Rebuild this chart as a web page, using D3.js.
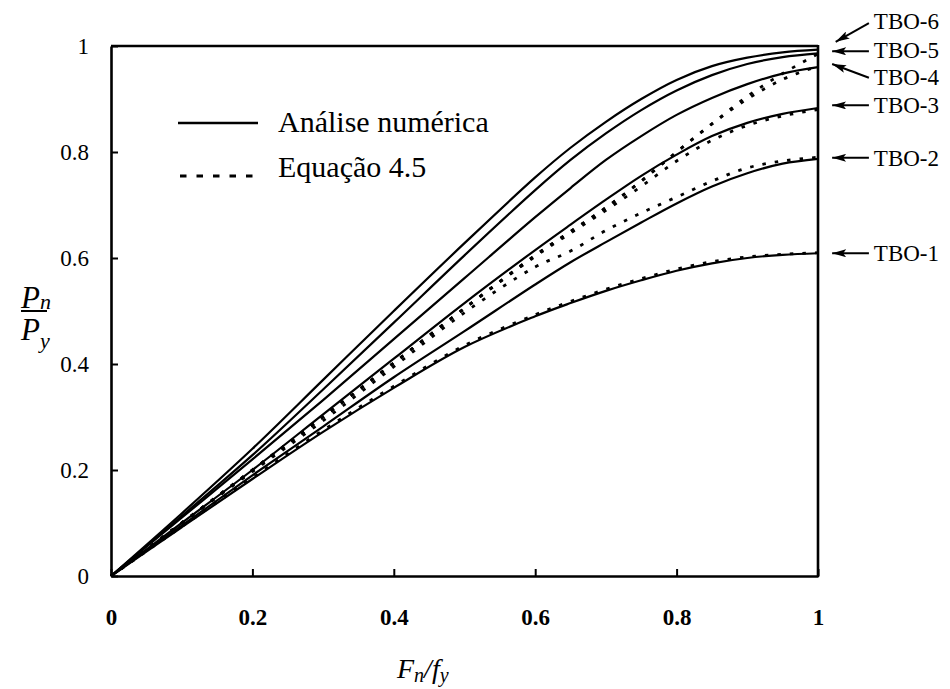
<!DOCTYPE html>
<html>
<head>
<meta charset="utf-8">
<script src="https://cdn.jsdelivr.net/npm/d3@7"></script>
<style>
  html, body { margin: 0; padding: 0; background: #fff; }
  svg { display: block; }
  svg text { font-family: "Liberation Serif", "DejaVu Serif", serif !important; fill: #000; }
</style>
</head>
<body>
<svg id="chart" width="950" height="689"></svg>
<script>
// ---------- data ----------
const fnGrid = [0, 0.1, 0.2, 0.3, 0.4, 0.5, 0.6, 0.65, 0.7, 0.75, 0.8, 0.85, 0.9, 0.95, 1.0];

// numerical analysis (solid)
const tbo1 = [0, 0.092, 0.183, 0.272, 0.355, 0.432, 0.490, 0.515, 0.538, 0.558, 0.576, 0.590, 0.600, 0.606, 0.609];
const tbo2 = [0, 0.095, 0.190, 0.282, 0.375, 0.462, 0.550, 0.592, 0.630, 0.667, 0.703, 0.735, 0.760, 0.778, 0.787];
const tbo3 = [0, 0.100, 0.200, 0.305, 0.410, 0.515, 0.615, 0.663, 0.710, 0.755, 0.795, 0.830, 0.855, 0.872, 0.883];
const tbo4 = [0, 0.110, 0.220, 0.332, 0.447, 0.562, 0.677, 0.732, 0.785, 0.830, 0.870, 0.902, 0.928, 0.948, 0.960];
const tbo5 = [0, 0.113, 0.228, 0.352, 0.478, 0.605, 0.728, 0.785, 0.835, 0.879, 0.916, 0.945, 0.966, 0.979, 0.986];
const tbo6 = [0, 0.118, 0.240, 0.370, 0.500, 0.628, 0.752, 0.808, 0.857, 0.900, 0.936, 0.962, 0.978, 0.988, 0.993];

// Equação 4.5 (dotted)
const eq1 = [0, 0.093, 0.185, 0.275, 0.358, 0.435, 0.493, 0.518, 0.541, 0.561, 0.579, 0.593, 0.602, 0.607, 0.610];
const eq2 = [0, 0.100, 0.197, 0.293, 0.395, 0.497, 0.583, 0.613, 0.652, 0.685, 0.715, 0.745, 0.770, 0.783, 0.790];
const eq3 = [0, 0.100, 0.200, 0.300, 0.402, 0.505, 0.603, 0.647, 0.690, 0.735, 0.783, 0.822, 0.850, 0.868, 0.880];
const eq4 = [0, 0.100, 0.200, 0.300, 0.402, 0.505, 0.605, 0.650, 0.695, 0.745, 0.800, 0.853, 0.900, 0.937, 0.962];
const eq5 = [0, 0.100, 0.200, 0.300, 0.402, 0.505, 0.605, 0.650, 0.695, 0.745, 0.800, 0.853, 0.905, 0.948, 0.985];

const solidSeries = [tbo1, tbo2, tbo3, tbo4, tbo5, tbo6];
const dottedSeries = [eq1, eq2, eq3, eq4, eq5];

const xTicks = [0, 0.2, 0.4, 0.6, 0.8, 1];
const xTickLabels = ["0", "0.2", "0.4", "0.6", "0.8", "1"];
const yTicks = [0, 0.2, 0.4, 0.6, 0.8, 1];
const yTickLabels = ["0", "0.2", "0.4", "0.6", "0.8", "1"];

const legendLabels = ["Análise numérica", "Equação 4.5"];

// curve labels at the right with arrows (data units)
const tboLabels = ["TBO-1", "TBO-2", "TBO-3", "TBO-4", "TBO-5", "TBO-6"];
const tboLabelY = [0.609, 0.789, 0.889, 0.941, 0.992, 1.048];
const arrowTip  = [[1.02, 0.609], [1.02, 0.789], [1.02, 0.888], [1.02, 0.966], [1.02, 0.990], [1.025, 1.008]];
const arrowTail = [[1.072, 0.609], [1.072, 0.789], [1.072, 0.888], [1.072, 0.940], [1.072, 0.990], [1.072, 1.043]];

// ---------- layout ----------
const SERIF = "'Liberation Serif', 'DejaVu Serif', serif";
const svg = d3.select("#chart");
const mLeft = 111, mRight = 818, mTop = 46, mBottom = 576;

const x = d3.scaleLinear().domain([0, 1]).range([mLeft, mRight]);
const y = d3.scaleLinear().domain([0, 1]).range([mBottom, mTop]);

const line = d3.line()
  .x((d, i) => x(fnGrid[i]))
  .y(d => y(d))
  .curve(d3.curveCatmullRom.alpha(0.5));

// curves
const gCurves = svg.append("g");
gCurves.selectAll("path.solid")
  .data(solidSeries)
  .join("path")
  .attr("class", "solid")
  .attr("d", line)
  .attr("fill", "none")
  .attr("stroke", "#000")
  .attr("stroke-width", 2.2);

gCurves.selectAll("path.dotted")
  .data(dottedSeries)
  .join("path")
  .attr("class", "dotted")
  .attr("d", line)
  .attr("fill", "none")
  .attr("stroke", "#000")
  .attr("stroke-width", 2.8)
  .attr("stroke-dasharray", "3.5,9");

// axes
const axisStroke = 2.6;
const xAxis = d3.axisBottom(x).tickValues(xTicks).tickFormat((d, i) => xTickLabels[i]).tickSizeInner(-7).tickSizeOuter(0).tickPadding(33);
const yAxis = d3.axisLeft(y).tickValues(yTicks).tickFormat((d, i) => yTickLabels[i]).tickSizeInner(-7).tickSizeOuter(0).tickPadding(22);

const gx = svg.append("g").attr("transform", `translate(0,${mBottom})`).call(xAxis);
const gy = svg.append("g").attr("transform", `translate(${mLeft},0)`).call(yAxis);

[gx, gy].forEach(g => {
  g.attr("font-family", SERIF);
  g.select(".domain").attr("stroke", "#000").attr("stroke-width", axisStroke);
  g.selectAll(".tick line").attr("stroke", "#000").attr("stroke-width", 2);
});
gx.selectAll(".tick text")
  .style("font-family", SERIF)
  .attr("font-size", 23).attr("font-weight", "bold").attr("fill", "#000");
gy.selectAll(".tick text")
  .style("font-family", SERIF)
  .attr("font-size", 23).attr("fill", "#000");

// frame top and right
svg.append("line").attr("x1", x(0)).attr("x2", x(1)).attr("y1", y(1)).attr("y2", y(1))
  .attr("stroke", "#000").attr("stroke-width", axisStroke);
svg.append("line").attr("x1", x(1)).attr("x2", x(1)).attr("y1", y(0) + 1).attr("y2", y(1) - 1)
  .attr("stroke", "#000").attr("stroke-width", axisStroke);

// axis titles
const xt = svg.append("text").attr("x", 397).attr("y", 678)
  .style("font-family", SERIF)
  .attr("font-size", 28).attr("font-style", "italic");
xt.append("tspan").text("F");
xt.append("tspan").attr("font-size", 20).attr("dy", 4).text("n");
xt.append("tspan").attr("dy", -4).text("/f");
xt.append("tspan").attr("font-size", 20).attr("dy", 4).text("y");

const yt = svg.append("g");
const num = yt.append("text").attr("x", 21).attr("y", 308).style("font-family", SERIF)
  .attr("font-size", 31).attr("font-style", "italic");
num.append("tspan").text("P");
num.append("tspan").attr("font-size", 22).attr("dy", 1).text("n");
yt.append("line").attr("x1", 21).attr("x2", 47).attr("y1", 311).attr("y2", 311)
  .attr("stroke", "#000").attr("stroke-width", 2);
const den = yt.append("text").attr("x", 21).attr("y", 340).style("font-family", SERIF)
  .attr("font-size", 31).attr("font-style", "italic");
den.append("tspan").text("P");
den.append("tspan").attr("font-size", 22).attr("dy", 8).text("y");

// legend
const lg = svg.append("g");
lg.append("line").attr("x1", 178).attr("x2", 258).attr("y1", 123).attr("y2", 123)
  .attr("stroke", "#000").attr("stroke-width", 2.6);
lg.append("line").attr("x1", 180).attr("x2", 258).attr("y1", 176).attr("y2", 176)
  .attr("stroke", "#000").attr("stroke-width", 2.8).attr("stroke-dasharray", "6.5,10");
lg.selectAll("text.leg").data(legendLabels).join("text")
  .attr("class", "leg")
  .style("font-family", SERIF)
  .attr("x", 278)
  .attr("y", (d, i) => i === 0 ? 132 : 177)
  .attr("font-size", 30)
  .text(d => d);

// arrows + labels
const defs = svg.append("defs");
defs.append("marker").attr("id", "arr")
  .attr("viewBox", "0 0 14 8").attr("refX", 14).attr("refY", 4)
  .attr("markerWidth", 14).attr("markerHeight", 8)
  .attr("markerUnits", "userSpaceOnUse").attr("orient", "auto")
  .append("path").attr("d", "M0,0 L14,4 L0,8 L3,4 Z").attr("fill", "#000");

const ga = svg.append("g");
ga.selectAll("line.arrow").data(tboLabels).join("line")
  .attr("class", "arrow")
  .attr("x1", (d, i) => x(arrowTail[i][0])).attr("y1", (d, i) => y(arrowTail[i][1]))
  .attr("x2", (d, i) => x(arrowTip[i][0])).attr("y2", (d, i) => y(arrowTip[i][1]))
  .attr("stroke", "#000").attr("stroke-width", 2)
  .attr("marker-end", "url(#arr)");

ga.selectAll("text.tbo").data(tboLabels).join("text")
  .attr("class", "tbo")
  .style("font-family", SERIF)
  .attr("x", x(1.079))
  .attr("y", (d, i) => y(tboLabelY[i]))
  .attr("dy", "0.35em")
  .attr("font-size", 23)
  .text(d => d);
</script>
</body>
</html>
